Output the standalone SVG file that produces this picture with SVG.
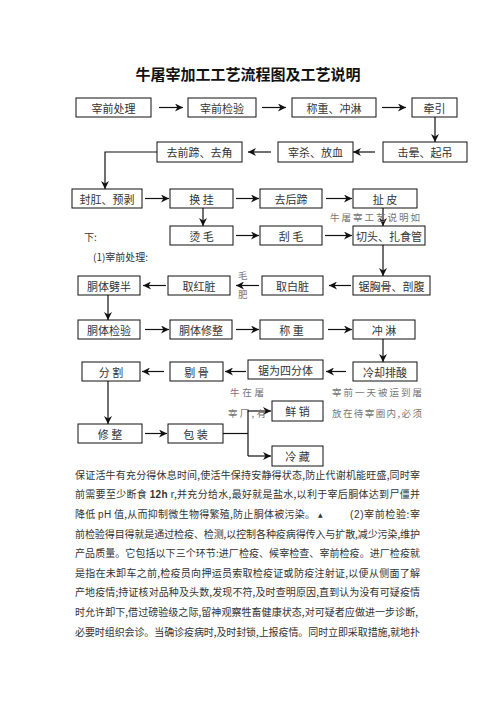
<svg xmlns="http://www.w3.org/2000/svg" width="496" height="702" viewBox="0 0 496 702">
<defs>
<marker id="ah" viewBox="0 0 10 10" refX="10" refY="5" markerUnits="userSpaceOnUse" markerWidth="8" markerHeight="8" orient="auto">
<path d="M0,0 L10,5 L0,10 L3,5 z" fill="#111"/>
</marker>
<style>
.b{fill:#fff;stroke:#111;stroke-width:1}
.t{font-family:"Noto Sans CJK SC","Liberation Serif",serif;font-size:11px;fill:#333;text-anchor:middle;dominant-baseline:central}
.c{fill:none;stroke:#111;stroke-width:1.2}
.a{marker-end:url(#ah)}
.g{font-family:"Noto Sans CJK SC",sans-serif;font-size:9.5px;fill:#777}
.p{font-family:"Noto Sans CJK SC",sans-serif;font-size:10px;fill:#333}
.s{font-family:"Liberation Sans",sans-serif}
</style>
</defs>
<rect width="496" height="702" fill="#fff"/>
<text x="248" y="80" text-anchor="middle" style="font-family:'Noto Sans CJK SC',sans-serif;font-size:15px;font-weight:bold;fill:#111">牛屠宰加工工艺流程图及工艺说明</text>

<g id="connectors">
<line class="c a" x1="159" y1="107.5" x2="183" y2="107.5"/>
<line class="c a" x1="262" y1="107.5" x2="286" y2="107.5"/>
<line class="c a" x1="382" y1="107.5" x2="406" y2="107.5"/>
<line class="c a" x1="435" y1="117" x2="435" y2="142"/>
<line class="c a" x1="375" y1="152" x2="353" y2="152"/>
<line class="c a" x1="271" y1="152" x2="248" y2="152"/>
<polyline class="c a" points="157,152 105,152 105,189"/>
<line class="c a" x1="145" y1="198.5" x2="169" y2="198.5"/>
<line class="c a" x1="236" y1="198.5" x2="259" y2="198.5"/>
<line class="c a" x1="326" y1="198.5" x2="352" y2="198.5"/>
<line class="c a" x1="203" y1="208" x2="203" y2="226"/>
<line class="c a" x1="383" y1="208" x2="383" y2="226"/>
<line class="c a" x1="236" y1="235.5" x2="259" y2="235.5"/>
<line class="c a" x1="325" y1="235.5" x2="352" y2="235.5"/>
<line class="c a" x1="383" y1="245" x2="383" y2="276"/>
<line class="c a" x1="351" y1="285.5" x2="329" y2="285.5"/>
<line class="c a" x1="259" y1="285.5" x2="236" y2="285.5"/>
<line class="c a" x1="166" y1="285.5" x2="143" y2="285.5"/>
<line class="c a" x1="108" y1="295" x2="108" y2="320"/>
<line class="c a" x1="145" y1="329.5" x2="169" y2="329.5"/>
<line class="c a" x1="236" y1="329.5" x2="259" y2="329.5"/>
<line class="c a" x1="328" y1="329.5" x2="352" y2="329.5"/>
<line class="c a" x1="383" y1="339" x2="383" y2="362"/>
<line class="c a" x1="346" y1="371.5" x2="326" y2="371.5"/>
<line class="c a" x1="246" y1="371.5" x2="225" y2="371.5"/>
<line class="c a" x1="164" y1="371.5" x2="142" y2="371.5"/>
<line class="c a" x1="108" y1="381" x2="108" y2="424"/>
<line class="c a" x1="145" y1="433.5" x2="167" y2="433.5"/>
<polyline class="c" points="223,433.5 248,433.5"/>
<line class="c" x1="248" y1="410" x2="248" y2="456"/>
<line class="c a" x1="248" y1="411" x2="271" y2="411"/>
<line class="c a" x1="248" y1="456" x2="271" y2="456"/>
</g>

<g id="n1"><rect class="b" x="76" y="98" width="75" height="19"/><text class="t" x="113.5" y="107.5">宰前处理</text></g>
<g id="n2"><rect class="b" x="188" y="98" width="68" height="19"/><text class="t" x="222" y="107.5">宰前检验</text></g>
<g id="n3"><rect class="b" x="292" y="98" width="84" height="19"/><text class="t" x="334" y="107.5">称重、冲淋</text></g>
<g id="n4"><rect class="b" x="412" y="98" width="45" height="19"/><text class="t" x="434.5" y="107.5">牵引</text></g>
<g id="n5"><rect class="b" x="383" y="142" width="84" height="20"/><text class="t" x="425" y="152">击晕、起吊</text></g>
<g id="n6"><rect class="b" x="278" y="142" width="75" height="20"/><text class="t" x="315.5" y="152">宰杀、放血</text></g>
<g id="n7"><rect class="b" x="157" y="142" width="85" height="20"/><text class="t" x="199.5" y="152">去前蹄、去角</text></g>
<g id="n8"><rect class="b" x="72" y="189" width="70" height="19"/><text class="t" x="107" y="198.5">封肛、预剥</text></g>
<g id="n9"><rect class="b" x="170" y="189" width="63" height="19"/><text class="t" x="201.5" y="198.5">换 挂</text></g>
<g id="n10"><rect class="b" x="260" y="189" width="62" height="19"/><text class="t" x="291" y="198.5">去后蹄</text></g>
<g id="n11"><rect class="b" x="353" y="189" width="64" height="19"/><text class="t" x="385" y="198.5">扯 皮</text></g>
<g id="n12"><rect class="b" x="170" y="226" width="63" height="19"/><text class="t" x="201.5" y="235.5">烫 毛</text></g>
<g id="n13"><rect class="b" x="260" y="226" width="62" height="19"/><text class="t" x="291" y="235.5">刮 毛</text></g>
<g id="n14"><rect class="b" x="353" y="226" width="72" height="19"/><text class="t" x="389" y="235.5">切头、扎食管</text></g>
<g id="n15"><rect class="b" x="353" y="276" width="77" height="19"/><text class="t" x="391.5" y="285.5">锯胸骨、剖腹</text></g>
<g id="n16"><rect class="b" x="262" y="276" width="61" height="19"/><text class="t" x="292.5" y="285.5">取白脏</text></g>
<g id="n17"><rect class="b" x="168" y="276" width="62" height="19"/><text class="t" x="199" y="285.5">取红脏</text></g>
<g id="n18"><rect class="b" x="78" y="276" width="62" height="19"/><text class="t" x="109" y="285.5">胴体劈半</text></g>
<g id="n19"><rect class="b" x="78" y="320" width="62" height="19"/><text class="t" x="109" y="329.5">胴体检验</text></g>
<g id="n20"><rect class="b" x="170" y="320" width="62" height="19"/><text class="t" x="201" y="329.5">胴体修整</text></g>
<g id="n21"><rect class="b" x="260" y="320" width="63" height="19"/><text class="t" x="291.5" y="329.5">称 重</text></g>
<g id="n22"><rect class="b" x="353" y="320" width="62" height="19"/><text class="t" x="384" y="329.5">冲 淋</text></g>
<g id="n23"><rect class="b" x="353" y="362" width="64" height="19"/><text class="t" x="385" y="371.5">冷却排酸</text></g>
<g id="n24"><rect class="b" x="248" y="360" width="75" height="19"/><text class="t" x="285.5" y="369.5">锯为四分体</text></g>
<g id="n25"><rect class="b" x="170" y="362" width="53" height="19"/><text class="t" x="196.5" y="371.5">剔 骨</text></g>
<g id="n26"><rect class="b" x="82" y="362" width="58" height="19"/><text class="t" x="111" y="371.5">分 割</text></g>
<g id="n27"><rect class="b" x="78" y="424" width="64" height="19"/><text class="t" x="110" y="433.5">修 整</text></g>
<g id="n28"><rect class="b" x="168" y="424" width="55" height="19"/><text class="t" x="195.5" y="433.5">包 装</text></g>
<g id="n29"><rect class="b" x="272" y="401" width="51" height="20"/><text class="t" x="297.5" y="411">鲜 销</text></g>
<g id="n30"><rect class="b" x="272" y="446" width="51" height="20"/><text class="t" x="297.5" y="456">冷 藏</text></g>

<g id="notes">
<text class="g" x="330" y="221" textLength="90" lengthAdjust="spacing">牛屠宰工艺说明如</text>
<text class="p" x="84" y="241">下:</text>
<text class="p" x="93" y="261">(1)宰前处理:</text>
<text class="g" x="238" y="279">毛</text>
<text class="g" x="238" y="298">肥</text>
<text class="g" x="230" y="396" textLength="34" lengthAdjust="spacing">牛在屠</text>
<text class="g" x="332" y="396" textLength="90" lengthAdjust="spacing">宰前一天被运到屠</text>
<text class="g" x="228" y="417" textLength="38" lengthAdjust="spacing">宰厂,有</text>
<text class="g" x="332" y="417" textLength="90" lengthAdjust="spacing">放在待宰圈内,必须</text>
</g>

<g id="paragraph">
<text class="p" x="75" y="479" textLength="345" lengthAdjust="spacing">保证活牛有充分得休息时间,使活牛保持安静得状态,防止代谢机能旺盛,同时宰</text>
<text class="p" x="75" y="498" textLength="345" lengthAdjust="spacing">前需要至少断食 <tspan class="s" font-weight="bold">12h</tspan> r,并充分给水,最好就是盐水,以利于宰后胴体达到尸僵并</text>
<text class="p" x="75" y="518" textLength="240" lengthAdjust="spacing">降低 <tspan class="s">pH</tspan> 值,从而抑制微生物得繁殖,防止胴体被污染。</text>
<text x="318" y="517" style="font-family:'DejaVu Sans',sans-serif;font-size:6px;fill:#333">▲</text>
<text class="p" x="350" y="518" textLength="70" lengthAdjust="spacing"><tspan class="s">(2)</tspan>宰前检验:宰</text>
<text class="p" x="75" y="538" textLength="345" lengthAdjust="spacing">前检验得目得就是通过检疫、检测,以控制各种疫病得传入与扩散,减少污染,维护</text>
<text class="p" x="75" y="557" textLength="345" lengthAdjust="spacing">产品质量。它包括以下三个环节:进厂检疫、候宰检查、宰前检疫。进厂检疫就</text>
<text class="p" x="75" y="577" textLength="345" lengthAdjust="spacing">是指在未卸车之前,检疫员向押运员索取检疫证或防疫注射证,以便从侧面了解</text>
<text class="p" x="75" y="596" textLength="345" lengthAdjust="spacing">产地疫情;持证核对品种及头数,发现不符,及时查明原因,直到认为没有可疑疫情</text>
<text class="p" x="75" y="616" textLength="343" lengthAdjust="spacing">时允许卸下,借过磅验级之际,留神观察牲畜健康状态,对可疑者应做进一步诊断,</text>
<text class="p" x="75" y="636" textLength="345" lengthAdjust="spacing">必要时组织会诊。当确诊疫病时,及时封锁,上报疫情。同时立即采取措施,就地扑</text>
</g>
</svg>
